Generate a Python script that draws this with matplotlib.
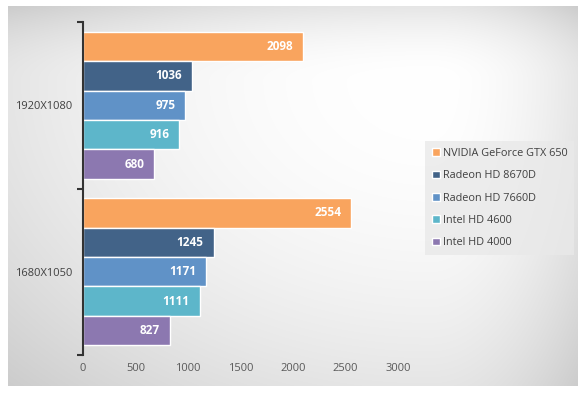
import numpy as np
import matplotlib
matplotlib.use("Agg")
import matplotlib.pyplot as plt

# ----- data -----
resolutions = ["1920X1080", "1680X1050"]
gpus = ["NVIDIA GeForce GTX 650", "Radeon HD 8670D", "Radeon HD 7660D",
        "Intel HD 4600", "Intel HD 4000"]
scores_1920 = [2098, 1036, 975, 916, 680]
scores_1680 = [2554, 1245, 1171, 1111, 827]
colors = ["#f9a45e", "#426388", "#6092c7", "#5db6ca", "#8c78b0"]
x_ticks = [0, 500, 1000, 1500, 2000, 2500, 3000]

plt.rcParams["font.family"] = ["Open Sans", "DejaVu Sans"]

W, H = 587, 396
fig = plt.figure(figsize=(W / 100, H / 100), dpi=100)
fig.patch.set_facecolor("white")

# gradient background panel (white spot near top right, grey toward the edges)
px0, py0, pw, ph = 8, 6, 570, 380
bg = fig.add_axes([px0 / W, 1 - (py0 + ph) / H, pw / W, ph / H], zorder=0)
yy, xx = np.mgrid[0:ph, 0:pw]
cx, cy = 422, 74
u = np.where(xx < cx, (xx - cx) / cx, (xx - cx) / (pw - cx))
v = np.where(yy < cy, (yy - cy) / cy, (yy - cy) / (ph - cy))
r2 = u ** 2 + v ** 2
shade = np.clip(1.0 - 0.1 * r2, 0.78, 1.0)
bg.imshow(np.dstack([shade, shade, shade]), aspect="auto", extent=[0, 1, 0, 1])
bg.set_axis_off()

ax = fig.add_axes([83 / W, 1 - 355 / H, 315 / W, 333 / H], zorder=1)
ax.patch.set_alpha(0)

groups = [scores_1920, scores_1680]
n = len(gpus)
bh = 0.177
for gi, vals in enumerate(groups):
    center = 1 - gi  # top group at y=1
    for i, (v_, c) in enumerate(zip(vals, colors)):
        y = center + (n - 1) / 2 * bh - i * bh
        ax.barh(y, v_, height=bh, color=c, edgecolor="white", linewidth=1.0,
                label=gpus[i] if gi == 0 else None)
        ax.text(v_ - 95, y, str(v_), ha="right", va="center", color="white",
                fontsize=8.5, fontweight="bold")

ax.set_xlim(0, 3000)
ax.set_ylim(-0.5, 1.5)
ax.set_xticks(x_ticks)
ax.set_xticklabels([str(t) for t in x_ticks], color="#595959", fontsize=8)
ax.tick_params(axis="x", length=0, pad=6)
ax.set_yticks([1, 0])
ax.set_yticklabels(resolutions, color="#404040", fontsize=8)
ax.tick_params(axis="y", which="major", length=0, pad=7.5)
ax.set_yticks([-0.5, 0.5, 1.5], minor=True)
ax.tick_params(axis="y", which="minor", length=4, width=1.5, color="#333333")
for s in ["top", "right", "bottom"]:
    ax.spines[s].set_visible(False)
ax.spines["left"].set_color("#333333")
ax.spines["left"].set_linewidth(1.5)

leg = ax.legend(loc="upper left", bbox_to_anchor=(420 / W, 1 - 136 / H),
                bbox_transform=fig.transFigure, frameon=True, fontsize=7.8,
                handlelength=0.7, handleheight=0.7, handletextpad=0.3,
                labelspacing=1.05, borderpad=0.6, fancybox=False)
leg.get_frame().set_facecolor("#e9e9e9")
leg.get_frame().set_edgecolor("none")
for t in leg.get_texts():
    t.set_color("#404040")

fig.savefig("out.png", dpi=100, facecolor="white")
